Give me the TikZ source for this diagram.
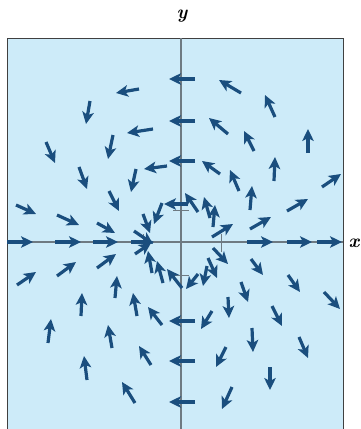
\documentclass[tikz,border=0pt]{standalone}
\usetikzlibrary{arrows.meta}
\definecolor{bgblue}{HTML}{CDEBF9}
\definecolor{vecblue}{HTML}{1A4E7E}
\definecolor{axisgray}{HTML}{6E7A82}
\begin{document}
\begin{tikzpicture}[x=1pt,y=-1pt,
  vec/.style={draw=vecblue,line width=3.2pt,
    -{Stealth[length=12pt,width=11.5pt,inset=3pt]}},
  axisline/.style={draw=axisgray,line width=1.2pt},
  tickmark/.style={draw=axisgray,line width=1pt},
  axlabel/.style={font=\fontsize{19}{19}\selectfont\bfseries\itshape,inner sep=0pt}]
\useasboundingbox (0,0) rectangle (360,429);
% panel
\fill[bgblue] (7,38) rectangle (343,429);
\draw[draw=black!75,line width=0.9pt] (7,429) -- (7,38) -- (343,38) -- (343,429);
% axes
\draw[axisline] (181,38) -- (181,429);
\draw[axisline] (7,242) -- (343,242);
\draw[tickmark] (143,234) -- (143,250);
\draw[tickmark] (221,234) -- (221,252);
\draw[tickmark] (173,210) -- (189,210);
\draw[tickmark] (173,275) -- (189,275);
% labels
\node[axlabel] (ylab) at (182,16) {y};
\node[axlabel] (xlab) at (354,243) {x};
% vectors on the y axis
\foreach \yy in {79,121,161,321,361,402}
  \draw[vec] (195,\yy) -- (169,\yy);
\draw[vec] (188,204) -- (164,204);
% vectors on the x axis
\foreach \xa/\xb in {7/33,55/81,93/118,131/154,247/273,287/312,317/342}
  \draw[vec] (\xa,242) -- (\xb,242);
% upper right
\foreach \a/\b/\c/\d in {
  241/93/219/80, 275/117/265/95, 228/134/209/118, 254/151/244/131,
  308/153/308/129, 220/174/202/161, 274/181/275/157, 239/191/230/170,
  322/187/341/174, 250/210/252/186, 287/211/308/199, 198/212/185/193,
  210/218/204/197, 213/227/215/205, 212/237/233/224, 250/229/271/217}
  \draw[vec] (\a,\b) -- (\c,\d);
% upper left
\foreach \a/\b/\c/\d in {
  139/89/116/93, 90/101/86/124, 153/129/127/133, 46/142/55/163,
  113/135/108/159, 167/166/144/169, 79/167/87/189, 136/169/131/192,
  109/191/119/211, 16/205/36/214, 57/215/79/225, 97/223/115/233,
  162/203/154/224, 143/214/150/233, 134/231/153/244}
  \draw[vec] (\a,\b) -- (\c,\d);
% lower left
\foreach \a/\b/\c/\d in {
  135/254/151/243, 152/273/148/251, 163/283/157/261, 182/288/167/269,
  17/285/36/272, 57/276/76/262, 97/268/116/254, 115/298/117/276,
  81/316/82/293, 137/316/133/293, 162/325/148/307, 48/343/51/319,
  112/348/108/325, 151/365/139/346, 87/380/84/356, 135/403/122/382}
  \draw[vec] (\a,\b) -- (\c,\d);
% lower right
\foreach \a/\b/\c/\d in {
  213/248/228/264, 208/258/217/278, 207/266/203/286, 198/274/186/289,
  251/259/263/275, 241/282/248/302, 288/275/300/292, 228/297/229/318,
  212/311/201/329, 272/306/282/326, 324/292/340/309, 252/328/253/352,
  299/337/308/358, 226/347/216/367, 270/367/270/390, 232/387/222/409}
  \draw[vec] (\a,\b) -- (\c,\d);
\end{tikzpicture}
\end{document}
